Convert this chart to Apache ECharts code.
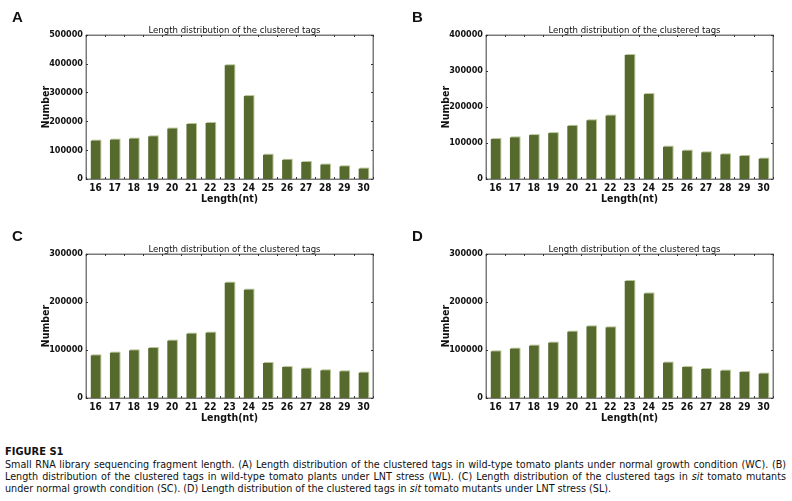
<!DOCTYPE html>
<html>
<head>
<meta charset="utf-8">
<title>Figure S1</title>
<script src="https://cdn.jsdelivr.net/npm/echarts@6/dist/echarts.min.js"></script>
<style>
  html, body { margin: 0; padding: 0; background: #fff; }
  #page { position: relative; width: 792px; height: 501px; overflow: hidden; }
  #chart { position: absolute; left: 0; top: 0; width: 792px; height: 440px; }
  #caption {
    position: absolute; left: 5px; top: 446px; width: 781px;
    font-family: "Liberation Sans Narrow", "Arial Narrow", "DejaVu Sans Condensed", sans-serif;
    font-size: 10.7px; line-height: 12px; color: #111; text-align: justify;
  }
  #caption b { display: block; font-size: 11px; margin-bottom: 1px; }
</style>
</head>
<body>
<div id="page">
  <div id="chart"></div>
  <div id="caption">
    <b>FIGURE S1</b>
    Small RNA library sequencing fragment length. (A) Length distribution of the clustered tags in wild-type tomato plants under normal growth condition (WC). (B) Length distribution of the clustered tags in wild-type tomato plants under LNT stress (WL). (C) Length distribution of the clustered tags in <i>sit</i> tomato mutants under normal growth condition (SC). (D) Length distribution of the clustered tags in <i>sit</i> tomato mutants under LNT stress (SL).
  </div>
</div>
<script>
  const lengths = ["16", "17", "18", "19", "20", "21", "22", "23", "24", "25", "26", "27", "28", "29", "30"];
  const wcCounts = [133000, 136500, 140000, 148000, 175000, 191000, 194500, 395000, 288000, 84000, 66500, 59000, 50000, 44000, 36000];
  const wlCounts = [111000, 115500, 122000, 127500, 147500, 163000, 176000, 344500, 236000, 89500, 78500, 74000, 68500, 64000, 56500];
  const scCounts = [88800, 94400, 99200, 104100, 119400, 133900, 136000, 240100, 225600, 72900, 64500, 61100, 57600, 55500, 52700];
  const slCounts = [97100, 102700, 109000, 115200, 138100, 149200, 147100, 243600, 217900, 73600, 64500, 60400, 56900, 54100, 50700];
  const panelLetters = ["A", "B", "C", "D"];
  const yMaxes = [500000, 400000, 300000, 300000];
  const yStep = 100000;

  const FONT = '"Liberation Sans Narrow", "Arial Narrow", "DejaVu Sans Condensed", sans-serif';
  const BAR = "#566a2e";
  const AXIS = "#7a7a7a";

  // plot rectangles of the four panels, in page pixels
  const boxes = [
    { left: 86, top: 35 },
    { left: 486, top: 35 },
    { left: 86, top: 254 },
    { left: 486, top: 254 }
  ];
  const W = 287;
  const H = 144;

  function buildOption() {
    const series = [wcCounts, wlCounts, scCounts, slCounts];
    const option = {
      animation: false,
      title: [],
      grid: [],
      xAxis: [],
      yAxis: [],
      series: [],
      graphic: []
    };

    boxes.forEach((box, i) => {
      option.grid.push({
        left: box.left, top: box.top, width: W, height: H, containLabel: false,
        show: true, borderColor: AXIS, borderWidth: 1, backgroundColor: "transparent"
      });

      option.title.push({
        text: "Length distribution of the clustered tags",
        left: box.left + W / 2,
        top: box.top - 14,
        textAlign: "center",
        textStyle: { fontFamily: FONT, fontSize: 9.5, fontWeight: "normal", color: "#111" }
      });

      option.graphic.push({
        type: "text",
        left: box.left - 74,
        top: box.top - 25,
        style: { text: panelLetters[i], font: "bold 15px Arial, 'Liberation Sans', sans-serif", fill: "#111" }
      });

      const lineStyle = { color: AXIS, width: 1 };
      const tick = { show: true, inside: true, length: 2, lineStyle: { color: "#333" } };

      option.xAxis.push({
        type: "category",
        gridIndex: i,
        data: lengths,
        position: "bottom",
        name: "Length(nt)",
        nameLocation: "middle",
        nameGap: 14,
        nameTextStyle: { fontFamily: FONT, fontSize: 10.5, fontWeight: "bold", color: "#111" },
        axisLine: { onZero: false, lineStyle },
        axisTick: tick,
        axisLabel: { fontFamily: FONT, fontSize: 10, fontWeight: "bold", color: "#111", margin: 4, interval: 0 }
      });
      option.xAxis.push({
        type: "category",
        gridIndex: i,
        data: lengths,
        position: "top",
        axisLine: { show: true, onZero: false, lineStyle },
        axisTick: tick,
        axisLabel: { show: false }
      });

      option.yAxis.push({
        type: "value",
        gridIndex: i,
        min: 0,
        max: yMaxes[i],
        interval: yStep,
        position: "left",
        name: "Number",
        nameLocation: "middle",
        nameGap: 34,
        nameMoveOverlap: false,
        nameTextStyle: { fontFamily: FONT, fontSize: 10.5, fontWeight: "bold", color: "#111" },
        axisLine: { show: true, onZero: false, lineStyle },
        axisTick: tick,
        splitLine: { show: false },
        axisLabel: {
          fontFamily: FONT, fontSize: 9, fontWeight: "bold", color: "#111", margin: 3,
          formatter: (v) => String(v)
        }
      });
      option.yAxis.push({
        type: "value",
        gridIndex: i,
        min: 0,
        max: yMaxes[i],
        interval: yStep,
        position: "right",
        axisLine: { show: true, onZero: false, lineStyle },
        axisTick: tick,
        splitLine: { show: false },
        axisLabel: { show: false }
      });

      option.series.push({
        type: "bar",
        xAxisIndex: i * 2,
        yAxisIndex: i * 2,
        data: series[i],
        barWidth: "50%",
        itemStyle: {
          color: BAR,
          shadowColor: "#b9c49a",
          shadowBlur: 0,
          shadowOffsetX: 1,
          shadowOffsetY: -1
        }
      });
    });

    return option;
  }

  document.addEventListener("DOMContentLoaded", () => {
    const chart = echarts.init(document.getElementById("chart"), null, { renderer: "canvas" });
    chart.setOption(buildOption());
  });
</script>
</body>
</html>
